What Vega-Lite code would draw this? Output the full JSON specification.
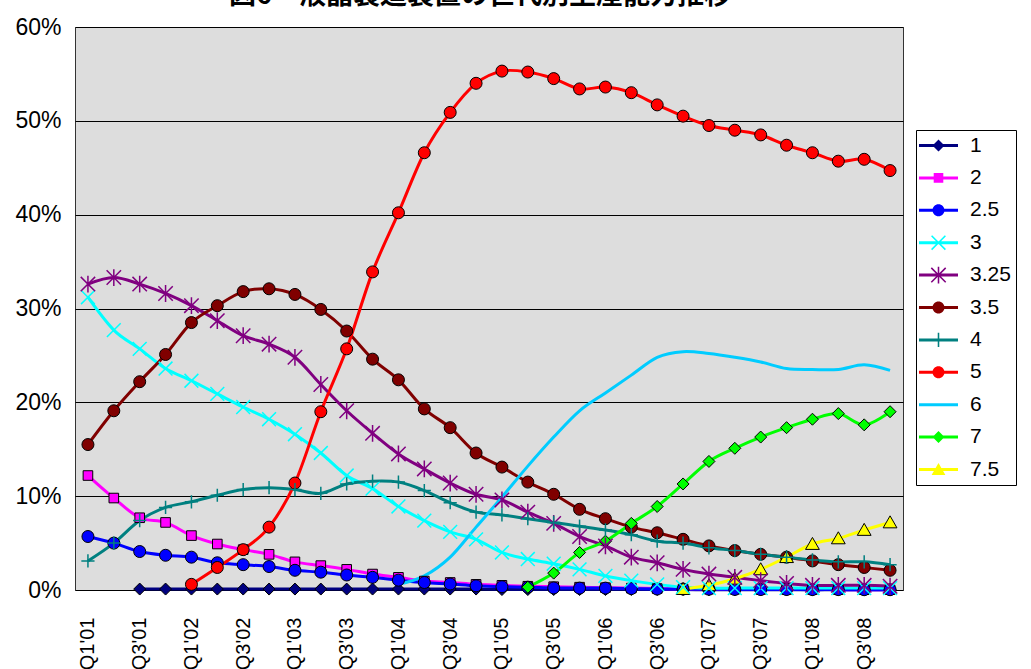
{
  "$schema": "https://vega.github.io/schema/vega-lite/v6.json",
  "autosize": {"type": "none"},
  "width": 828,
  "height": 563,
  "padding": {"left": 75, "top": 27, "right": 128, "bottom": 79},
  "background": "#ffffff",
  "title": {
    "text": "図6　液晶製造装置の世代別生産能力推移",
    "font": "Noto Sans CJK JP",
    "fontSize": 27,
    "fontWeight": "bold",
    "color": "#000000",
    "anchor": "middle",
    "baseline": "alphabetic",
    "offset": 0,
    "dx": -9,
    "dy": 15
  },
  "config": {
    "view": {"fill": "#dddddd", "stroke": "#333333", "strokeWidth": 1},
    "axis": {"labelFont": "Liberation Sans", "labelColor": "#000000"}
  },
  "data": {
    "values": [
      {"q": "Q3'01", "g": "1", "v": 0.1}, {"q": "Q4'01", "g": "1", "v": 0.1}, {"q": "Q1'02", "g": "1", "v": 0.1}, {"q": "Q2'02", "g": "1", "v": 0.1},
      {"q": "Q3'02", "g": "1", "v": 0.1}, {"q": "Q4'02", "g": "1", "v": 0.1}, {"q": "Q1'03", "g": "1", "v": 0.1}, {"q": "Q2'03", "g": "1", "v": 0.1},
      {"q": "Q3'03", "g": "1", "v": 0.1}, {"q": "Q4'03", "g": "1", "v": 0.1}, {"q": "Q1'04", "g": "1", "v": 0.1}, {"q": "Q2'04", "g": "1", "v": 0.1},
      {"q": "Q3'04", "g": "1", "v": 0.1}, {"q": "Q4'04", "g": "1", "v": 0.1}, {"q": "Q1'05", "g": "1", "v": 0.05}, {"q": "Q2'05", "g": "1", "v": 0.05},
      {"q": "Q3'05", "g": "1", "v": 0.05}, {"q": "Q4'05", "g": "1", "v": 0.05}, {"q": "Q1'06", "g": "1", "v": 0.05}, {"q": "Q2'06", "g": "1", "v": 0.05},
      {"q": "Q3'06", "g": "1", "v": 0.05}, {"q": "Q4'06", "g": "1", "v": 0.05}, {"q": "Q1'07", "g": "1", "v": 0.02}, {"q": "Q2'07", "g": "1", "v": 0.02},
      {"q": "Q3'07", "g": "1", "v": 0.02}, {"q": "Q4'07", "g": "1", "v": 0.02}, {"q": "Q1'08", "g": "1", "v": 0.02}, {"q": "Q2'08", "g": "1", "v": 0.02},
      {"q": "Q3'08", "g": "1", "v": 0.02}, {"q": "Q4'08", "g": "1", "v": 0.02},

      {"q": "Q1'01", "g": "2", "v": 12.2}, {"q": "Q2'01", "g": "2", "v": 9.8}, {"q": "Q3'01", "g": "2", "v": 7.7}, {"q": "Q4'01", "g": "2", "v": 7.2},
      {"q": "Q1'02", "g": "2", "v": 5.8}, {"q": "Q2'02", "g": "2", "v": 4.9}, {"q": "Q3'02", "g": "2", "v": 4.3}, {"q": "Q4'02", "g": "2", "v": 3.8},
      {"q": "Q1'03", "g": "2", "v": 3.0}, {"q": "Q2'03", "g": "2", "v": 2.6}, {"q": "Q3'03", "g": "2", "v": 2.2}, {"q": "Q4'03", "g": "2", "v": 1.7},
      {"q": "Q1'04", "g": "2", "v": 1.35}, {"q": "Q2'04", "g": "2", "v": 0.95}, {"q": "Q3'04", "g": "2", "v": 0.8}, {"q": "Q4'04", "g": "2", "v": 0.6},
      {"q": "Q1'05", "g": "2", "v": 0.5}, {"q": "Q2'05", "g": "2", "v": 0.4}, {"q": "Q3'05", "g": "2", "v": 0.35}, {"q": "Q4'05", "g": "2", "v": 0.3},
      {"q": "Q1'06", "g": "2", "v": 0.25}, {"q": "Q2'06", "g": "2", "v": 0.2}, {"q": "Q3'06", "g": "2", "v": 0.15}, {"q": "Q4'06", "g": "2", "v": 0.1},
      {"q": "Q1'07", "g": "2", "v": 0.1}, {"q": "Q2'07", "g": "2", "v": 0.08}, {"q": "Q3'07", "g": "2", "v": 0.06}, {"q": "Q4'07", "g": "2", "v": 0.05},
      {"q": "Q1'08", "g": "2", "v": 0.05}, {"q": "Q2'08", "g": "2", "v": 0.04}, {"q": "Q3'08", "g": "2", "v": 0.03}, {"q": "Q4'08", "g": "2", "v": 0.03},

      {"q": "Q1'01", "g": "2.5", "v": 5.7}, {"q": "Q2'01", "g": "2.5", "v": 5.0}, {"q": "Q3'01", "g": "2.5", "v": 4.1}, {"q": "Q4'01", "g": "2.5", "v": 3.7},
      {"q": "Q1'02", "g": "2.5", "v": 3.5}, {"q": "Q2'02", "g": "2.5", "v": 2.9}, {"q": "Q3'02", "g": "2.5", "v": 2.7}, {"q": "Q4'02", "g": "2.5", "v": 2.5},
      {"q": "Q1'03", "g": "2.5", "v": 2.1}, {"q": "Q2'03", "g": "2.5", "v": 1.9}, {"q": "Q3'03", "g": "2.5", "v": 1.6}, {"q": "Q4'03", "g": "2.5", "v": 1.35},
      {"q": "Q1'04", "g": "2.5", "v": 1.05}, {"q": "Q2'04", "g": "2.5", "v": 0.8}, {"q": "Q3'04", "g": "2.5", "v": 0.64}, {"q": "Q4'04", "g": "2.5", "v": 0.45},
      {"q": "Q1'05", "g": "2.5", "v": 0.35}, {"q": "Q2'05", "g": "2.5", "v": 0.3}, {"q": "Q3'05", "g": "2.5", "v": 0.22}, {"q": "Q4'05", "g": "2.5", "v": 0.2},
      {"q": "Q1'06", "g": "2.5", "v": 0.2}, {"q": "Q2'06", "g": "2.5", "v": 0.15}, {"q": "Q3'06", "g": "2.5", "v": 0.1}, {"q": "Q4'06", "g": "2.5", "v": 0.1},
      {"q": "Q1'07", "g": "2.5", "v": 0.08}, {"q": "Q2'07", "g": "2.5", "v": 0.06}, {"q": "Q3'07", "g": "2.5", "v": 0.05}, {"q": "Q4'07", "g": "2.5", "v": 0.05},
      {"q": "Q1'08", "g": "2.5", "v": 0.04}, {"q": "Q2'08", "g": "2.5", "v": 0.04}, {"q": "Q3'08", "g": "2.5", "v": 0.03}, {"q": "Q4'08", "g": "2.5", "v": 0.03},

      {"q": "Q1'01", "g": "3", "v": 31.2}, {"q": "Q2'01", "g": "3", "v": 27.7}, {"q": "Q3'01", "g": "3", "v": 25.7}, {"q": "Q4'01", "g": "3", "v": 23.6},
      {"q": "Q1'02", "g": "3", "v": 22.3}, {"q": "Q2'02", "g": "3", "v": 20.9}, {"q": "Q3'02", "g": "3", "v": 19.5}, {"q": "Q4'02", "g": "3", "v": 18.2},
      {"q": "Q1'03", "g": "3", "v": 16.6}, {"q": "Q2'03", "g": "3", "v": 14.6}, {"q": "Q3'03", "g": "3", "v": 12.2}, {"q": "Q4'03", "g": "3", "v": 10.8},
      {"q": "Q1'04", "g": "3", "v": 8.9}, {"q": "Q2'04", "g": "3", "v": 7.4}, {"q": "Q3'04", "g": "3", "v": 6.2}, {"q": "Q4'04", "g": "3", "v": 5.4},
      {"q": "Q1'05", "g": "3", "v": 4.0}, {"q": "Q2'05", "g": "3", "v": 3.3}, {"q": "Q3'05", "g": "3", "v": 2.8}, {"q": "Q4'05", "g": "3", "v": 2.2},
      {"q": "Q1'06", "g": "3", "v": 1.5}, {"q": "Q2'06", "g": "3", "v": 1.0}, {"q": "Q3'06", "g": "3", "v": 0.6}, {"q": "Q4'06", "g": "3", "v": 0.3},
      {"q": "Q1'07", "g": "3", "v": 0.2}, {"q": "Q2'07", "g": "3", "v": 0.2}, {"q": "Q3'07", "g": "3", "v": 0.2}, {"q": "Q4'07", "g": "3", "v": 0.2},
      {"q": "Q1'08", "g": "3", "v": 0.2}, {"q": "Q2'08", "g": "3", "v": 0.2}, {"q": "Q3'08", "g": "3", "v": 0.2}, {"q": "Q4'08", "g": "3", "v": 0.2},

      {"q": "Q1'01", "g": "3.25", "v": 32.6}, {"q": "Q2'01", "g": "3.25", "v": 33.3}, {"q": "Q3'01", "g": "3.25", "v": 32.6}, {"q": "Q4'01", "g": "3.25", "v": 31.6},
      {"q": "Q1'02", "g": "3.25", "v": 30.3}, {"q": "Q2'02", "g": "3.25", "v": 28.7}, {"q": "Q3'02", "g": "3.25", "v": 27.1}, {"q": "Q4'02", "g": "3.25", "v": 26.2},
      {"q": "Q1'03", "g": "3.25", "v": 24.8}, {"q": "Q2'03", "g": "3.25", "v": 21.9}, {"q": "Q3'03", "g": "3.25", "v": 19.1}, {"q": "Q4'03", "g": "3.25", "v": 16.7},
      {"q": "Q1'04", "g": "3.25", "v": 14.5}, {"q": "Q2'04", "g": "3.25", "v": 12.9}, {"q": "Q3'04", "g": "3.25", "v": 11.4}, {"q": "Q4'04", "g": "3.25", "v": 10.2},
      {"q": "Q1'05", "g": "3.25", "v": 9.6}, {"q": "Q2'05", "g": "3.25", "v": 8.3}, {"q": "Q3'05", "g": "3.25", "v": 7.1}, {"q": "Q4'05", "g": "3.25", "v": 5.7},
      {"q": "Q1'06", "g": "3.25", "v": 4.7}, {"q": "Q2'06", "g": "3.25", "v": 3.5}, {"q": "Q3'06", "g": "3.25", "v": 2.9}, {"q": "Q4'06", "g": "3.25", "v": 2.2},
      {"q": "Q1'07", "g": "3.25", "v": 1.7}, {"q": "Q2'07", "g": "3.25", "v": 1.35}, {"q": "Q3'07", "g": "3.25", "v": 1.0}, {"q": "Q4'07", "g": "3.25", "v": 0.7},
      {"q": "Q1'08", "g": "3.25", "v": 0.5}, {"q": "Q2'08", "g": "3.25", "v": 0.5}, {"q": "Q3'08", "g": "3.25", "v": 0.5}, {"q": "Q4'08", "g": "3.25", "v": 0.4},

      {"q": "Q1'01", "g": "3.5", "v": 15.5}, {"q": "Q2'01", "g": "3.5", "v": 19.1}, {"q": "Q3'01", "g": "3.5", "v": 22.2}, {"q": "Q4'01", "g": "3.5", "v": 25.1},
      {"q": "Q1'02", "g": "3.5", "v": 28.5}, {"q": "Q2'02", "g": "3.5", "v": 30.3}, {"q": "Q3'02", "g": "3.5", "v": 31.8}, {"q": "Q4'02", "g": "3.5", "v": 32.1},
      {"q": "Q1'03", "g": "3.5", "v": 31.5}, {"q": "Q2'03", "g": "3.5", "v": 29.9}, {"q": "Q3'03", "g": "3.5", "v": 27.6}, {"q": "Q4'03", "g": "3.5", "v": 24.6},
      {"q": "Q1'04", "g": "3.5", "v": 22.4}, {"q": "Q2'04", "g": "3.5", "v": 19.3}, {"q": "Q3'04", "g": "3.5", "v": 17.3}, {"q": "Q4'04", "g": "3.5", "v": 14.6},
      {"q": "Q1'05", "g": "3.5", "v": 13.1}, {"q": "Q2'05", "g": "3.5", "v": 11.5}, {"q": "Q3'05", "g": "3.5", "v": 10.2}, {"q": "Q4'05", "g": "3.5", "v": 8.6},
      {"q": "Q1'06", "g": "3.5", "v": 7.6}, {"q": "Q2'06", "g": "3.5", "v": 6.7}, {"q": "Q3'06", "g": "3.5", "v": 6.1}, {"q": "Q4'06", "g": "3.5", "v": 5.4},
      {"q": "Q1'07", "g": "3.5", "v": 4.7}, {"q": "Q2'07", "g": "3.5", "v": 4.2}, {"q": "Q3'07", "g": "3.5", "v": 3.8}, {"q": "Q4'07", "g": "3.5", "v": 3.5},
      {"q": "Q1'08", "g": "3.5", "v": 3.1}, {"q": "Q2'08", "g": "3.5", "v": 2.7}, {"q": "Q3'08", "g": "3.5", "v": 2.4}, {"q": "Q4'08", "g": "3.5", "v": 2.1},

      {"q": "Q1'01", "g": "4", "v": 3.1}, {"q": "Q2'01", "g": "4", "v": 5.0}, {"q": "Q3'01", "g": "4", "v": 7.4}, {"q": "Q4'01", "g": "4", "v": 8.8},
      {"q": "Q1'02", "g": "4", "v": 9.4}, {"q": "Q2'02", "g": "4", "v": 10.1}, {"q": "Q3'02", "g": "4", "v": 10.7}, {"q": "Q4'02", "g": "4", "v": 10.9},
      {"q": "Q1'03", "g": "4", "v": 10.7}, {"q": "Q2'03", "g": "4", "v": 10.3}, {"q": "Q3'03", "g": "4", "v": 11.3}, {"q": "Q4'03", "g": "4", "v": 11.6},
      {"q": "Q1'04", "g": "4", "v": 11.5}, {"q": "Q2'04", "g": "4", "v": 10.6}, {"q": "Q3'04", "g": "4", "v": 9.3}, {"q": "Q4'04", "g": "4", "v": 8.3},
      {"q": "Q1'05", "g": "4", "v": 8.0}, {"q": "Q2'05", "g": "4", "v": 7.6}, {"q": "Q3'05", "g": "4", "v": 7.2}, {"q": "Q4'05", "g": "4", "v": 6.8},
      {"q": "Q1'06", "g": "4", "v": 6.4}, {"q": "Q2'06", "g": "4", "v": 5.9}, {"q": "Q3'06", "g": "4", "v": 5.2}, {"q": "Q4'06", "g": "4", "v": 5.0},
      {"q": "Q1'07", "g": "4", "v": 4.5}, {"q": "Q2'07", "g": "4", "v": 4.2}, {"q": "Q3'07", "g": "4", "v": 3.8}, {"q": "Q4'07", "g": "4", "v": 3.5},
      {"q": "Q1'08", "g": "4", "v": 3.2}, {"q": "Q2'08", "g": "4", "v": 3.0}, {"q": "Q3'08", "g": "4", "v": 3.0}, {"q": "Q4'08", "g": "4", "v": 2.7},

      {"q": "Q1'02", "g": "5", "v": 0.6}, {"q": "Q2'02", "g": "5", "v": 2.4}, {"q": "Q3'02", "g": "5", "v": 4.3}, {"q": "Q4'02", "g": "5", "v": 6.7},
      {"q": "Q1'03", "g": "5", "v": 11.4}, {"q": "Q2'03", "g": "5", "v": 19.0}, {"q": "Q3'03", "g": "5", "v": 25.7}, {"q": "Q4'03", "g": "5", "v": 33.9},
      {"q": "Q1'04", "g": "5", "v": 40.2}, {"q": "Q2'04", "g": "5", "v": 46.6}, {"q": "Q3'04", "g": "5", "v": 50.9}, {"q": "Q4'04", "g": "5", "v": 54.0},
      {"q": "Q1'05", "g": "5", "v": 55.3}, {"q": "Q2'05", "g": "5", "v": 55.2}, {"q": "Q3'05", "g": "5", "v": 54.5}, {"q": "Q4'05", "g": "5", "v": 53.4},
      {"q": "Q1'06", "g": "5", "v": 53.6}, {"q": "Q2'06", "g": "5", "v": 53.0}, {"q": "Q3'06", "g": "5", "v": 51.7}, {"q": "Q4'06", "g": "5", "v": 50.5},
      {"q": "Q1'07", "g": "5", "v": 49.5}, {"q": "Q2'07", "g": "5", "v": 49.0}, {"q": "Q3'07", "g": "5", "v": 48.5}, {"q": "Q4'07", "g": "5", "v": 47.4},
      {"q": "Q1'08", "g": "5", "v": 46.6}, {"q": "Q2'08", "g": "5", "v": 45.7}, {"q": "Q3'08", "g": "5", "v": 45.9}, {"q": "Q4'08", "g": "5", "v": 44.7},

      {"q": "Q1'04", "g": "6", "v": 0.6}, {"q": "Q2'04", "g": "6", "v": 1.5}, {"q": "Q3'04", "g": "6", "v": 3.5}, {"q": "Q4'04", "g": "6", "v": 6.7},
      {"q": "Q1'05", "g": "6", "v": 9.9}, {"q": "Q2'05", "g": "6", "v": 13.2}, {"q": "Q3'05", "g": "6", "v": 16.3}, {"q": "Q4'05", "g": "6", "v": 19.1},
      {"q": "Q1'06", "g": "6", "v": 21.0}, {"q": "Q2'06", "g": "6", "v": 22.9}, {"q": "Q3'06", "g": "6", "v": 24.8}, {"q": "Q4'06", "g": "6", "v": 25.4},
      {"q": "Q1'07", "g": "6", "v": 25.2}, {"q": "Q2'07", "g": "6", "v": 24.8}, {"q": "Q3'07", "g": "6", "v": 24.3}, {"q": "Q4'07", "g": "6", "v": 23.6},
      {"q": "Q1'08", "g": "6", "v": 23.5}, {"q": "Q2'08", "g": "6", "v": 23.5}, {"q": "Q3'08", "g": "6", "v": 24.0}, {"q": "Q4'08", "g": "6", "v": 23.4},

      {"q": "Q2'05", "g": "7", "v": 0.3}, {"q": "Q3'05", "g": "7", "v": 1.8}, {"q": "Q4'05", "g": "7", "v": 4.0}, {"q": "Q1'06", "g": "7", "v": 5.2},
      {"q": "Q2'06", "g": "7", "v": 7.1}, {"q": "Q3'06", "g": "7", "v": 8.9}, {"q": "Q4'06", "g": "7", "v": 11.3}, {"q": "Q1'07", "g": "7", "v": 13.7},
      {"q": "Q2'07", "g": "7", "v": 15.1}, {"q": "Q3'07", "g": "7", "v": 16.3}, {"q": "Q4'07", "g": "7", "v": 17.3}, {"q": "Q1'08", "g": "7", "v": 18.2},
      {"q": "Q2'08", "g": "7", "v": 18.8}, {"q": "Q3'08", "g": "7", "v": 17.6}, {"q": "Q4'08", "g": "7", "v": 19.0},

      {"q": "Q4'06", "g": "7.5", "v": 0.1}, {"q": "Q1'07", "g": "7.5", "v": 0.5}, {"q": "Q2'07", "g": "7.5", "v": 1.2}, {"q": "Q3'07", "g": "7.5", "v": 2.2},
      {"q": "Q4'07", "g": "7.5", "v": 3.5}, {"q": "Q1'08", "g": "7.5", "v": 4.9}, {"q": "Q2'08", "g": "7.5", "v": 5.5}, {"q": "Q3'08", "g": "7.5", "v": 6.4},
      {"q": "Q4'08", "g": "7.5", "v": 7.2}
    ]
  },
  "encoding": {
    "x": {
      "field": "q",
      "type": "ordinal",
      "sort": ["Q1'01", "Q2'01", "Q3'01", "Q4'01", "Q1'02", "Q2'02", "Q3'02", "Q4'02", "Q1'03", "Q2'03", "Q3'03", "Q4'03", "Q1'04", "Q2'04", "Q3'04", "Q4'04", "Q1'05", "Q2'05", "Q3'05", "Q4'05", "Q1'06", "Q2'06", "Q3'06", "Q4'06", "Q1'07", "Q2'07", "Q3'07", "Q4'07", "Q1'08", "Q2'08", "Q3'08", "Q4'08"],
      "scale": {"type": "point", "padding": 0.5},
      "axis": {
        "title": null,
        "values": ["Q1'01", "Q3'01", "Q1'02", "Q3'02", "Q1'03", "Q3'03", "Q1'04", "Q3'04", "Q1'05", "Q3'05", "Q1'06", "Q3'06", "Q1'07", "Q3'07", "Q1'08", "Q3'08"],
        "labelAngle": -90,
        "labelAlign": "right",
        "labelBaseline": "middle",
        "labelFontSize": 20,
        "labelPadding": 27,
        "ticks": false,
        "tickSize": 0,
        "domain": false,
        "grid": false,
        "labelOverlap": false
      }
    },
    "y": {
      "field": "v",
      "type": "quantitative",
      "scale": {"domain": [0, 60], "nice": false},
      "axis": {
        "title": null,
        "values": [0, 10, 20, 30, 40, 50, 60],
        "labelExpr": "datum.value + '%'",
        "labelFontSize": 23,
        "labelPadding": 14,
        "ticks": false,
        "tickSize": 0,
        "domain": false,
        "grid": true,
        "gridColor": "#000000",
        "gridWidth": 1,
        "gridOpacity": 1,
        "labelOverlap": false
      }
    }
  },
  "layer": [
    {
      "mark": {"type": "line", "strokeWidth": 3, "interpolate": "cardinal"},
      "encoding": {
        "color": {
          "field": "g",
          "type": "nominal",
          "scale": {
            "domain": ["1", "2", "2.5", "3", "3.25", "3.5", "4", "5", "6", "7", "7.5"],
            "range": ["#000080", "#ff00ff", "#0000ff", "#00ffff", "#800080", "#800000", "#008080", "#ff0000", "#00ccff", "#00ff00", "#ffff00"]
          },
          "legend": null
        }
      }
    },
    {
      "transform": [{"filter": {"field": "g", "oneOf": ["1", "2", "2.5", "3.5", "5", "7", "7.5"]}}],
      "mark": {"type": "point", "filled": true, "opacity": 1, "size": 144, "stroke": "#000000", "strokeWidth": 1},
      "encoding": {
        "color": {
          "field": "g",
          "type": "nominal",
          "scale": {
            "domain": ["1", "2", "2.5", "3.5", "5", "7", "7.5"],
            "range": ["#000080", "#ff00ff", "#0000ff", "#800000", "#ff0000", "#00ff00", "#ffff00"]
          },
          "legend": null
        },
        "shape": {
          "field": "g",
          "type": "nominal",
          "scale": {
            "domain": ["1", "2", "2.5", "3.5", "5", "7", "7.5"],
            "range": ["diamond", "M-0.8,-0.8H0.8V0.8H-0.8Z", "circle", "circle", "circle", "diamond", "M0,-1.1L1.15,0.9H-1.15Z"]
          },
          "legend": null
        }
      }
    },
    {
      "transform": [{"filter": {"field": "g", "oneOf": ["3", "3.25", "4"]}}],
      "mark": {"type": "point", "filled": false, "opacity": 1, "size": 144, "strokeWidth": 1.5},
      "encoding": {
        "color": {
          "field": "g",
          "type": "nominal",
          "scale": {"domain": ["3", "3.25", "4"], "range": ["#00ffff", "#800080", "#008080"]},
          "legend": null
        },
        "shape": {
          "field": "g",
          "type": "nominal",
          "scale": {
            "domain": ["3", "3.25", "4"],
            "range": ["M-1.15,-1.15L1.15,1.15M-1.15,1.15L1.15,-1.15", "M-1.2,-1.2L1.2,1.2M-1.2,1.2L1.2,-1.2M0,-1.4V1.4", "M0,-1.1V1.1M-1.1,0H1.1"]
          },
          "legend": null
        }
      }
    },
    {
      "transform": [{"filter": "false"}],
      "mark": {"type": "point", "filled": true, "opacity": 1, "size": 144},
      "encoding": {
        "color": {
          "field": "g",
          "type": "nominal",
          "scale": {
            "domain": ["1", "2", "2.5", "3", "3.25", "3.5", "4", "5", "6", "7", "7.5"],
            "range": ["#000080", "#ff00ff", "#0000ff", "#00ffff", "#800080", "#800000", "#008080", "#ff0000", "#00ccff", "#00ff00", "#ffff00"]
          },
          "legend": {
            "title": null, "orient": "none", "legendX": 841, "legendY": 103, "padding": 5,
            "strokeColor": "#000000", "fillColor": "#ffffff", "symbolSize": 144, "symbolStrokeWidth": 0,
            "symbolOffset": 7, "labelOffset": 21, "labelFont": "Liberation Sans", "labelFontSize": 21,
            "labelColor": "#000000", "rowPadding": 10.4, "labelLimit": 400,
            "labelExpr": "datum.label + '            '"
          }
        },
        "shape": {
          "field": "g",
          "type": "nominal",
          "scale": {
            "domain": ["1", "2", "2.5", "3", "3.25", "3.5", "4", "5", "6", "7", "7.5"],
            "range": [
              "M-3.25,-0.25H3.25V0.25H-3.25ZM0,-1L1,0L0,1L-1,0Z",
              "M-3.25,-0.25H3.25V0.25H-3.25ZM-0.8,-0.8H0.8V0.8H-0.8Z",
              "M-3.25,-0.25H3.25V0.25H-3.25ZM-1,0A1,1,0,1,1,1,0A1,1,0,1,1,-1,0Z",
              "M-3.25,-0.25H3.25V0.25H-3.25ZM-1.058,-1.242L1.242,1.058L1.058,1.242L-1.242,-1.058ZM-1.242,1.058L1.058,-1.242L1.242,-1.058L-1.058,1.242Z",
              "M-3.25,-0.25H3.25V0.25H-3.25ZM-1.108,-1.292L1.292,1.108L1.108,1.292L-1.292,-1.108ZM-1.292,1.108L1.108,-1.292L1.292,-1.108L-1.108,1.292ZM-0.13,-1.4H0.13V1.4H-0.13Z",
              "M-3.25,-0.25H3.25V0.25H-3.25ZM-1,0A1,1,0,1,1,1,0A1,1,0,1,1,-1,0Z",
              "M-3.25,-0.25H3.25V0.25H-3.25ZM-0.13,-1.2H0.13V1.2H-0.13Z",
              "M-3.25,-0.25H3.25V0.25H-3.25ZM-1,0A1,1,0,1,1,1,0A1,1,0,1,1,-1,0Z",
              "M-3.25,-0.25H3.25V0.25H-3.25Z",
              "M-3.25,-0.25H3.25V0.25H-3.25ZM0,-1L1,0L0,1L-1,0Z",
              "M-3.25,-0.25H3.25V0.25H-3.25ZM0,-1.1L1.15,0.9H-1.15Z"
            ]
          },
          "legend": {
            "title": null, "orient": "none", "legendX": 841, "legendY": 103, "padding": 5,
            "strokeColor": "#000000", "fillColor": "#ffffff", "symbolSize": 144, "symbolStrokeWidth": 0,
            "symbolOffset": 7, "labelOffset": 21, "labelFont": "Liberation Sans", "labelFontSize": 21,
            "labelColor": "#000000", "rowPadding": 10.4, "labelLimit": 400,
            "labelExpr": "datum.label + '            '"
          }
        }
      }
    }
  ],
  "resolve": {"scale": {"color": "independent", "shape": "independent"}}
}
